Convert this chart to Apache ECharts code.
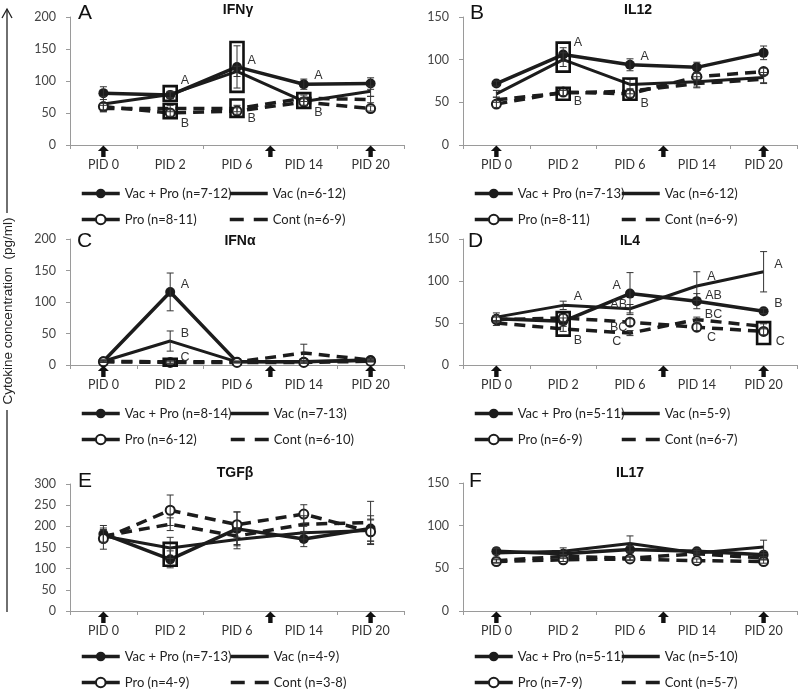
<!DOCTYPE html>
<html><head><meta charset="utf-8">
<script src="https://cdn.jsdelivr.net/npm/echarts@6/dist/echarts.min.js"></script>
<style>html,body{margin:0;padding:0;background:#fff}#c{width:800px;height:692px}</style>
</head><body><div id="c"></div>
<script>
// ---------------- data ----------------
const categories = ['PID 0', 'PID 2', 'PID 6', 'PID 14', 'PID 20'];
const groups = ['Vac + Pro', 'Vac', 'Pro', 'Cont'];
const vaccinationArrows = [[0, 0], [2, 0.5], [4, 0]]; // [category index, fraction of band to the right]

// A  IFNγ
const ifng_vacPro = [81, 78, 122, 95, 96];
const ifng_vac    = [64, 79, 115, 68, 84];
const ifng_pro    = [60, 50, 53, 67, 57];
const ifng_cont   = [57, 57, 57, 73, 71];
const ifng_vacPro_err = [10, 5, 33, 8, 9];
const ifng_vac_err    = [12, 5, 8, 6, 8];
const ifng_pro_err    = [5, 5, 5, 5, 4];
const ifng_cont_err   = [5, 5, 5, 5, 5];
const ifng_n = ['n=7-12', 'n=6-12', 'n=8-11', 'n=6-9'];
const ifng_boxes = [[1, 69, 92], [1, 42, 64], [2, 83, 161], [2, 44, 71], [3, 58, 81]];
const ifng_letters = [[1, 0.22, 101, 'A'], [1, 0.22, 34, 'B'], [2, 0.22, 132, 'A'], [2, 0.22, 41, 'B'], [3, 0.22, 109, 'A'], [3, 0.22, 50, 'B']];

// B  IL12
const il12_vacPro = [72, 106, 94, 91, 108];
const il12_vac    = [60, 100, 71, 74, 79];
const il12_pro    = [48, 62, 60, 80, 86];
const il12_cont   = [53, 61, 63, 72, 77];
const il12_vacPro_err = [3, 8, 7, 6, 8];
const il12_vac_err    = [4, 8, 6, 6, 6];
const il12_pro_err    = [4, 4, 4, 4, 4];
const il12_cont_err   = [3, 3, 3, 5, 5];
const il12_n = ['n=7-13', 'n=6-12', 'n=8-11', 'n=6-9'];
const il12_boxes = [[1, 86, 120], [1, 53, 67], [2, 53, 78]];
const il12_letters = [[1, 0.22, 120, 'A'], [1, 0.22, 51, 'B'], [2, 0.22, 104, 'A'], [2, 0.22, 48, 'B']];

// C  IFNα
const ifna_vacPro = [6, 116, 5, 5, 8];
const ifna_vac    = [6, 38, 5, 5, 7];
const ifna_pro    = [5, 4, 4, 4, 6];
const ifna_cont   = [6, 5, 5, 19, 8];
const ifna_vacPro_err = [2, 30, 1, 2, 2];
const ifna_vac_err    = [2, 16, 1, 2, 2];
const ifna_pro_err    = [1, 2, 1, 1, 1];
const ifna_cont_err   = [1, 2, 1, 14, 2];
const ifna_n = ['n=8-14', 'n=7-13', 'n=6-12', 'n=6-10'];
const ifna_boxes = [[1, -1, 10]];
const ifna_letters = [[1, 0.22, 127, 'A'], [1, 0.22, 50, 'B'], [1, 0.22, 12, 'C']];

// D  IL4
const il4_vacPro = [55, 52, 85, 76, 64];
const il4_vac    = [57, 71, 67, 94, 111];
const il4_pro    = [54, 56, 51, 45, 40];
const il4_cont   = [50, 43, 38, 54, 46];
const il4_vacPro_err = [4, 4, 25, 9, 3];
const il4_vac_err    = [5, 5, 5, 17, 24];
const il4_pro_err    = [3, 4, 4, 4, 4];
const il4_cont_err   = [3, 3, 3, 3, 3];
const il4_n = ['n=5-11', 'n=5-9', 'n=6-9', 'n=6-7'];
const il4_boxes = [[1, 35, 63], [4, 25, 51]];
const il4_letters = [[1, 0.22, 82, 'A'], [1, 0.22, 29, 'B'],
  [2, -0.2, 95, 'A'], [2, -0.17, 72, 'AB'], [2, -0.17, 44, 'BC'], [2, -0.2, 28, 'C'],
  [3, 0.22, 105, 'A'], [3, 0.25, 83, 'AB'], [3, 0.25, 60, 'BC'], [3, 0.22, 33, 'C'],
  [4, 0.22, 119, 'A'], [4, 0.22, 73, 'B'], [4, 0.25, 28, 'C']];

// E  TGFβ
const tgfb_vacPro = [182, 122, 194, 170, 195];
const tgfb_vac    = [177, 149, 169, 185, 190];
const tgfb_pro    = [171, 238, 204, 229, 187];
const tgfb_cont   = [177, 205, 177, 205, 209];
const tgfb_vacPro_err = [20, 20, 40, 18, 30];
const tgfb_vac_err    = [15, 25, 22, 15, 25];
const tgfb_pro_err    = [25, 36, 30, 22, 30];
const tgfb_cont_err   = [15, 15, 20, 20, 50];
const tgfb_n = ['n=7-13', 'n=4-9', 'n=4-9', 'n=3-8'];
const tgfb_boxes = [[1, 107, 161]];
const tgfb_letters = [];

// F  IL17
const il17_vacPro = [70, 67, 72, 70, 66];
const il17_vac    = [68, 70, 79, 68, 75];
const il17_pro    = [58, 60, 61, 59, 58];
const il17_cont   = [59, 64, 62, 67, 62];
const il17_vacPro_err = [4, 3, 4, 3, 4];
const il17_vac_err    = [5, 4, 9, 3, 8];
const il17_pro_err    = [2, 2, 2, 2, 2];
const il17_cont_err   = [2, 2, 2, 2, 2];
const il17_n = ['n=5-11', 'n=5-10', 'n=7-9', 'n=5-7'];
const il17_boxes = [];
const il17_letters = [];

const panelTitles = ['IFNγ', 'IL12', 'IFNα', 'IL4', 'TGFβ', 'IL17'];
const panelLetters = ['A', 'B', 'C', 'D', 'E', 'F'];
const panelMax = [200, 150, 200, 150, 300, 150];

const panelData = [
  {means: [ifng_vacPro, ifng_vac, ifng_pro, ifng_cont], errs: [ifng_vacPro_err, ifng_vac_err, ifng_pro_err, ifng_cont_err], n: ifng_n, boxes: ifng_boxes, letters: ifng_letters},
  {means: [il12_vacPro, il12_vac, il12_pro, il12_cont], errs: [il12_vacPro_err, il12_vac_err, il12_pro_err, il12_cont_err], n: il12_n, boxes: il12_boxes, letters: il12_letters},
  {means: [ifna_vacPro, ifna_vac, ifna_pro, ifna_cont], errs: [ifna_vacPro_err, ifna_vac_err, ifna_pro_err, ifna_cont_err], n: ifna_n, boxes: ifna_boxes, letters: ifna_letters},
  {means: [il4_vacPro, il4_vac, il4_pro, il4_cont], errs: [il4_vacPro_err, il4_vac_err, il4_pro_err, il4_cont_err], n: il4_n, boxes: il4_boxes, letters: il4_letters},
  {means: [tgfb_vacPro, tgfb_vac, tgfb_pro, tgfb_cont], errs: [tgfb_vacPro_err, tgfb_vac_err, tgfb_pro_err, tgfb_cont_err], n: tgfb_n, boxes: tgfb_boxes, letters: tgfb_letters},
  {means: [il17_vacPro, il17_vac, il17_pro, il17_cont], errs: [il17_vacPro_err, il17_vac_err, il17_pro_err, il17_cont_err], n: il17_n, boxes: il17_boxes, letters: il17_letters}
];

// ---------------- layout / style ----------------
const layout = [
  {left: 70,  top: 17,  height: 128, legTop: 187, legL: 80,  legR: 228, letX: 78,  letY: 13,  titX: 238, titY: 10},
  {left: 463, top: 17,  height: 128, legTop: 187, legL: 473, legR: 620, letX: 470, letY: 13,  titX: 638, titY: 10},
  {left: 70,  top: 239, height: 126, legTop: 407, legL: 80,  legR: 229, letX: 77,  letY: 241, titX: 240, titY: 241},
  {left: 463, top: 239, height: 126, legTop: 407, legL: 473, legR: 620, letX: 468, letY: 241, titX: 630, titY: 241},
  {left: 70,  top: 484, height: 127, legTop: 650, legL: 80,  legR: 229, letX: 78,  letY: 481, titX: 235, titY: 473},
  {left: 463, top: 483, height: 128, legTop: 650, legL: 473, legR: 620, letX: 469, letY: 481, titX: 630, titY: 473}
];
const INK = '#1c1c1c';
const AXIS = '#9a9a9a';
const FONT = 'Lato';
const seriesStyles = [
  {lineType: 'solid', width: 3.5, symbol: 'circle', size: 10},
  {lineType: 'solid', width: 3, symbol: 'none', size: 0},
  {lineType: [11, 7], width: 3.5, symbol: 'emptyCircle', size: 9},
  {lineType: [11, 7], width: 3.5, symbol: 'none', size: 0}
];
const HIDDEN = 'rgba(0,0,0,0)';

const grids = [], xAxes = [], yAxes = [], series = [], legends = [], graphics = [];

panelData.forEach((pd, i) => {
  const L = layout[i];
  grids.push({left: L.left, top: L.top, width: 334, height: L.height});
  xAxes.push({
    type: 'category', gridIndex: i, data: categories, boundaryGap: true,
    axisLine: {lineStyle: {color: AXIS, width: 1}},
    axisTick: {show: true, length: 4, lineStyle: {color: AXIS}},
    axisLabel: {color: '#333', fontFamily: FONT, fontSize: 12.5, margin: 13}
  });
  yAxes.push({
    type: 'value', gridIndex: i, min: 0, max: panelMax[i], interval: 50,
    axisLine: {show: true, lineStyle: {color: AXIS, width: 1}},
    axisTick: {show: true, length: 4, lineStyle: {color: AXIS}},
    splitLine: {show: false},
    axisLabel: {color: '#444', fontFamily: FONT, fontSize: 12.5, margin: 14}
  });

  const names = groups.map((g, k) => g + ' (' + pd.n[k] + ')');
  pd.means.forEach((arr, k) => {
    const st = seriesStyles[k];
    series.push({
      type: 'line', name: names[k], xAxisIndex: i, yAxisIndex: i, data: arr,
      symbol: st.symbol, symbolSize: st.size, showSymbol: st.symbol !== 'none',
      lineStyle: {color: INK, width: st.width, type: st.lineType},
      itemStyle: {color: INK, borderColor: INK, borderWidth: k === 2 ? 1.5 : 0},
      z: 2, animation: false, silent: true
    });
  });

  // error bars
  const errData = [];
  pd.means.forEach((arr, k) => arr.forEach((v, j) => errData.push([j, v - pd.errs[k][j], v + pd.errs[k][j]])));
  series.push({
    type: 'custom', xAxisIndex: i, yAxisIndex: i, data: errData, z: 3, clip: false, animation: false, silent: true,
    renderItem: (params, api) => {
      const x = api.value(0);
      const p1 = api.coord([x, api.value(1)]), p2 = api.coord([x, api.value(2)]);
      const w = 3.5, st = {stroke: '#333', lineWidth: 1};
      return {type: 'group', children: [
        {type: 'line', shape: {x1: p1[0], y1: p1[1], x2: p2[0], y2: p2[1]}, style: st},
        {type: 'line', shape: {x1: p1[0] - w, y1: p1[1], x2: p1[0] + w, y2: p1[1]}, style: st},
        {type: 'line', shape: {x1: p2[0] - w, y1: p2[1], x2: p2[0] + w, y2: p2[1]}, style: st}
      ]};
    }
  });

  // significance boxes
  if (pd.boxes.length) series.push({
    type: 'custom', xAxisIndex: i, yAxisIndex: i, data: pd.boxes, z: 4, clip: false, animation: false, silent: true,
    renderItem: (params, api) => {
      const x = api.value(0);
      const lo = api.coord([x, api.value(1)]), hi = api.coord([x, api.value(2)]);
      return {type: 'rect', shape: {x: lo[0] - 6.5, y: hi[1], width: 13, height: lo[1] - hi[1]},
        style: {stroke: '#111', lineWidth: 2.6, fill: null}};
    }
  });

  // letters
  if (pd.letters.length) {
    const lets = pd.letters;
    series.push({
      type: 'custom', xAxisIndex: i, yAxisIndex: i, data: lets.map(l => [l[0], l[2]]), z: 5, clip: false, animation: false, silent: true,
      renderItem: (params, api) => {
        const l = lets[params.dataIndex];
        const p = api.coord([l[0], l[2]]);
        const band = api.size([1, 0])[0];
        return {type: 'text', x: p[0] + l[1] * band, y: p[1],
          style: {text: l[3], fontSize: 12.5, fontFamily: 'Liberation Sans', fill: '#333', align: 'center', verticalAlign: 'middle'}};
      }
    });
  }

  // vaccination arrows
  series.push({
    type: 'custom', xAxisIndex: i, yAxisIndex: i, data: vaccinationArrows.map(a => [a[0], 0]), z: 6, clip: false, animation: false, silent: true,
    renderItem: (params, api) => {
      const a = vaccinationArrows[params.dataIndex];
      const p = api.coord([a[0], 0]);
      const band = api.size([1, 0])[0];
      const x = p[0] + a[1] * band, y = p[1];
      return {type: 'polygon', shape: {points: [[x, y + 0.5], [x + 5.5, y + 6], [x + 2.2, y + 6], [x + 2.2, y + 12], [x - 2.2, y + 12], [x - 2.2, y + 6], [x - 5.5, y + 6]]},
        style: {fill: '#111'}};
    }
  });

  const legText = {fontFamily: FONT, fontSize: 13, color: '#222'};
  const legBase = {orient: 'vertical', padding: 0, itemWidth: 38, itemHeight: 12, itemGap: 13, textStyle: legText, selectedMode: false,
    lineStyle: {width: 3.5}};
  legends.push(Object.assign({}, legBase, {left: L.legL, top: L.legTop,
    data: [{name: names[0], lineStyle: {width: 3.5}},
           {name: names[2], lineStyle: {type: [14, 10], width: 3.5}}]}));
  legends.push(Object.assign({}, legBase, {left: L.legR, top: L.legTop,
    data: [{name: names[1], lineStyle: {width: 3.5}, itemStyle: {color: HIDDEN, borderColor: HIDDEN, borderWidth: 0}},
           {name: names[3], lineStyle: {type: [14, 10], width: 3.5}, itemStyle: {color: HIDDEN, borderColor: HIDDEN, borderWidth: 0}}]}));

  graphics.push({type: 'text', x: L.letX, y: L.letY, style: {text: panelLetters[i], fontSize: 21, fontFamily: 'Liberation Sans', fill: '#111', align: 'left', verticalAlign: 'middle'}});
  graphics.push({type: 'text', x: L.titX, y: L.titY, style: {text: panelTitles[i], fontSize: 14, fontWeight: 'bold', fontFamily: 'Liberation Sans', fill: '#111', align: 'center', verticalAlign: 'middle'}});
});

// global y-axis title with long arrow
graphics.push({type: 'line', shape: {x1: 7, y1: 612, x2: 7, y2: 410}, style: {stroke: '#222', lineWidth: 1.3}});
graphics.push({type: 'line', shape: {x1: 7, y1: 213, x2: 7, y2: 9}, style: {stroke: '#222', lineWidth: 1.3}});
graphics.push({type: 'polyline', shape: {points: [[2, 18], [7, 9], [12, 18]]}, style: {stroke: '#222', lineWidth: 1.3, fill: null}});
graphics.push({type: 'text', x: 8, y: 311, rotation: Math.PI / 2,
  style: {text: 'Cytokine concentration  (pg/ml)', fontSize: 13.5, fontFamily: 'Liberation Sans', fill: '#222', align: 'center', verticalAlign: 'middle'}});

const chart = echarts.init(document.getElementById('c'), null, {renderer: 'canvas'});
chart.setOption({
  animation: false,
  backgroundColor: '#fff',
  grid: grids, xAxis: xAxes, yAxis: yAxes, series: series, legend: legends,
  graphic: {elements: graphics}
});
</script></body></html>
